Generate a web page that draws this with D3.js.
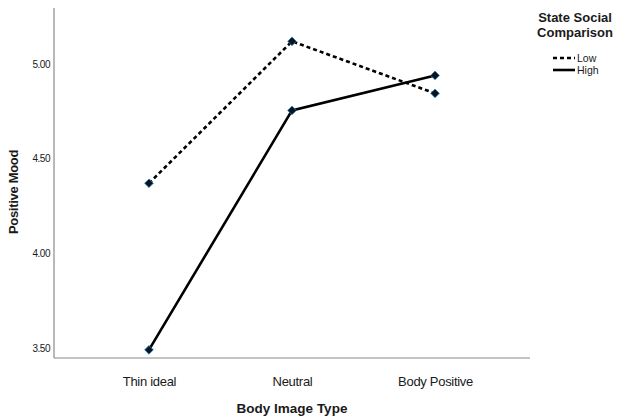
<!DOCTYPE html>
<html><head><meta charset="utf-8">
<script src="https://cdn.jsdelivr.net/npm/d3@7"></script>
<style>body{margin:0;background:#fff}svg{display:block}text{font-family:"Liberation Sans",Arial,sans-serif;fill:#1a1a1a}</style>
</head><body>
<script>
const categories = ["Thin ideal", "Neutral", "Body Positive"];
const seriesNames = ["Low", "High"];
const lowValues = [4.37, 5.12, 4.845];
const highValues = [3.49, 4.755, 4.94];
const yTicks = [3.5, 4.0, 4.5, 5.0];

const W = 617, H = 418;
const svg = d3.select("body").append("svg").attr("width", W).attr("height", H);
const x = d3.scalePoint().domain(categories).range([54, 530]).padding(0.664);
const y = d3.scaleLinear().domain([3.447, 5.296]).range([358, 8]);

const axisColor = "#8a8a8a";
svg.append("line").attr("x1", 54).attr("x2", 54).attr("y1", y.range()[1]).attr("y2", y.range()[0]).attr("stroke", axisColor).attr("stroke-width", 1.2);
svg.append("line").attr("x1", 54).attr("x2", 530).attr("y1", y.range()[0]).attr("y2", y.range()[0]).attr("stroke", axisColor).attr("stroke-width", 1.2);

const yAxis = d3.axisLeft(y).tickValues(yTicks).tickFormat(d3.format(".2f")).tickSize(0).tickPadding(4);
const gy = svg.append("g").attr("transform", "translate(54,0)").call(yAxis);
gy.select(".domain").remove();
gy.selectAll("text").style("font-size", "10px").style("letter-spacing", "-0.5px");

const xAxis = d3.axisBottom(x).tickSize(0).tickPadding(19);
const gx = svg.append("g").attr("transform", `translate(0,${y.range()[0]})`).call(xAxis);
gx.select(".domain").remove();
gx.selectAll("text").style("font-size", "13px").style("letter-spacing", "-0.3px");

svg.append("text").attr("x", 292).attr("y", 413).attr("text-anchor", "middle").style("font-size", "13.5px").style("font-weight", "bold").text("Body Image Type");
svg.append("text").attr("transform", "translate(18,192) rotate(-90)").attr("text-anchor", "middle").style("font-size", "13px").style("font-weight", "bold").style("letter-spacing", "-0.3px").text("Positive Mood");

const line = d3.line().x((d, i) => x(categories[i])).y(d => y(d));
const data = [{name: seriesNames[0], vals: lowValues, dash: "4,3"}, {name: seriesNames[1], vals: highValues, dash: null}];
data.forEach(s => {
  svg.append("path").attr("d", line(s.vals)).attr("fill", "none").attr("stroke", "#000").attr("stroke-width", 2.6)
    .attr("stroke-dasharray", s.dash);
});
data.forEach(s => {
  svg.selectAll(null).data(s.vals).enter().append("path")
    .attr("d", d3.symbol(d3.symbolDiamond2, 48)())
    .attr("transform", (d, i) => `translate(${x(categories[i])},${y(d)})`)
    .attr("fill", "#0a1420").attr("stroke", "#2a7fb8").attr("stroke-width", 0.8);
});

const lg = svg.append("g");
lg.append("text").attr("x", 575).attr("y", 22).attr("text-anchor", "middle").style("font-size", "13px").style("font-weight", "bold").text("State Social");
lg.append("text").attr("x", 575).attr("y", 37).attr("text-anchor", "middle").style("font-size", "13px").style("font-weight", "bold").text("Comparison");
data.forEach((s, i) => {
  const yy = 58 + i * 12;
  lg.append("line").attr("x1", 553).attr("x2", 575).attr("y1", yy).attr("y2", yy).attr("stroke", "#000").attr("stroke-width", 2.6).attr("stroke-dasharray", s.dash);
  lg.append("text").attr("x", 577).attr("y", yy + 4).style("font-size", "10.5px").text(s.name);
});
</script>
</body></html>
